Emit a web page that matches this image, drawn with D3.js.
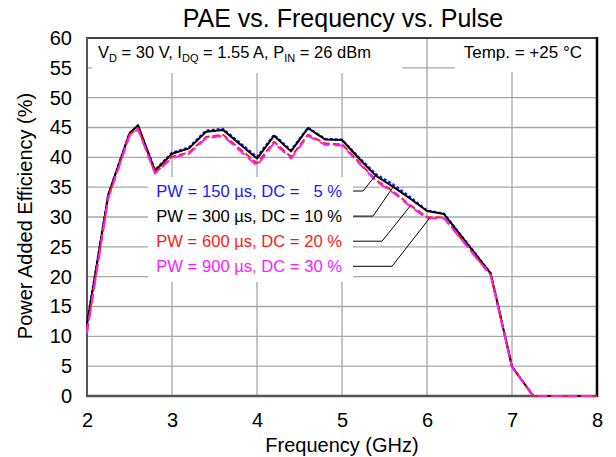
<!DOCTYPE html>
<html><head><meta charset="utf-8">
<script src="https://cdn.jsdelivr.net/npm/d3@7"></script>
<style>body{margin:0;background:#fff}svg{display:block;font-family:"Liberation Sans",Arial,sans-serif}</style>
</head><body><svg id="c" width="616" height="457"></svg>
<script>
const freqs = [2.0, 2.25, 2.5, 2.6, 2.8, 3.0, 3.2, 3.4, 3.6, 4.0, 4.2, 4.4, 4.6, 4.8, 5.0, 5.2, 5.4, 5.6, 5.8, 6.0, 6.2, 6.75, 7.0, 7.25, 7.5, 7.75, 8.0];
const pae150 = [12.3, 33.8, 44.1, 45.3, 37.9, 40.8, 41.7, 44.5, 44.8, 40.1, 43.8, 41.2, 45.0, 43.1, 43.0, 40.0, 37.2, 35.5, 33.4, 31.1, 30.6, 20.6, 5.0, 0, 0, 0, 0];
const pae300 = [12.0, 33.7, 44.0, 45.4, 37.7, 40.6, 41.5, 44.3, 44.6, 39.8, 43.6, 41.0, 44.9, 43.0, 42.9, 39.8, 36.9, 35.1, 33.1, 31.0, 30.5, 20.5, 4.9, 0, 0, 0, 0];
const pae600 = [11.0, 33.3, 43.8, 44.9, 37.4, 40.1, 40.8, 43.4, 43.8, 39.0, 42.6, 40.1, 43.8, 42.3, 42.2, 39.2, 36.2, 34.3, 32.0, 30.0, 29.9, 20.3, 4.9, 0, 0, 0, 0];
const pae900 = [10.5, 33.1, 43.6, 44.7, 37.3, 39.9, 40.6, 43.2, 43.6, 38.6, 42.4, 39.8, 43.6, 42.1, 42.0, 39.0, 36.0, 34.1, 31.8, 29.8, 29.8, 20.2, 4.8, 0, 0, 0, 0];
const seriesNames = ["PW = 150 µs, DC =   5 %", "PW = 300 µs, DC = 10 %", "PW = 600 µs, DC = 20 %", "PW = 900 µs, DC = 30 %"];
const seriesColors = ["#1a1aff", "#000000", "#ff1a1a", "#ff1aff"];
const leaderFreq = [5.39, 5.6, 5.8, 6.03];
const leaderPae = [36.9, 35.0, 31.8, 29.8];
const xTicks = [2, 3, 4, 5, 6, 7, 8];
const yTicks = [0, 5, 10, 15, 20, 25, 30, 35, 40, 45, 50, 55, 60];

const svg = d3.select("#c");
const x = d3.scaleLinear().domain([2, 8]).range([87, 597]);
const y = d3.scaleLinear().domain([0, 60]).range([396, 38]);

// gridlines
const grid = svg.append("g");
grid.selectAll(".hg").data(yTicks.filter(d => d > 0 && d < 60)).join("line")
  .attr("x1", x(2)).attr("x2", x(8)).attr("y1", d => y(d)).attr("y2", d => y(d))
  .attr("stroke", "#a8a8a8").attr("stroke-width", 1.3);
grid.selectAll(".vg").data(xTicks.filter(d => d > 2 && d < 8)).join("line")
  .attr("x1", d => x(d)).attr("x2", d => x(d)).attr("y1", y(60)).attr("y2", y(0))
  .attr("stroke", "#a8a8a8").attr("stroke-width", 1.3);

// header boxes (white, hide gridlines)
svg.append("rect").attr("x", 92).attr("y", 39).attr("width", 310).attr("height", 34).attr("fill", "#fff");
svg.append("rect").attr("x", 455).attr("y", 39).attr("width", 141).attr("height", 33).attr("fill", "#fff");

// frame
svg.append("line").attr("x1", 86).attr("x2", 598).attr("y1", 38).attr("y2", 38).attr("stroke", "#000").attr("stroke-width", 1.5);
svg.append("line").attr("x1", 597).attr("x2", 597).attr("y1", 37).attr("y2", 397).attr("stroke", "#000").attr("stroke-width", 2.5);
svg.append("line").attr("x1", 87).attr("x2", 87).attr("y1", 37).attr("y2", 397).attr("stroke", "#555").attr("stroke-width", 2);
svg.append("line").attr("x1", 86).attr("x2", 597).attr("y1", 396).attr("y2", 396).attr("stroke", "#555").attr("stroke-width", 2.5);

// series
const pts = arr => freqs.map((f, i) => [f, arr[i]]);
const line = d3.line().x(d => x(d[0])).y(d => y(d[1]));
const styles = [
  {data: pae150, dash: "3,2", w: 2},
  {data: pae300, dash: null, w: 2},
  {data: pae600, dash: "7,3", w: 2},
  {data: pae900, dash: "10,5", w: 2}
];
styles.forEach((s, i) => {
  svg.append("path").attr("d", line(pts(s.data))).attr("fill", "none")
    .attr("stroke", seriesColors[i]).attr("stroke-width", s.w)
    .attr("stroke-dasharray", s.dash).attr("stroke-linejoin", "round");
});

// legend box
svg.append("rect").attr("x", 148).attr("y", 177).attr("width", 205).attr("height", 105).attr("fill", "#fff");
const elbowX = [363, 373, 382, 392];
seriesNames.forEach((n, i) => {
  const by = 197 + i * 25.1;
  svg.append("text").attr("x", 342).attr("y", by).attr("text-anchor", "end")
    .attr("font-size", 16.6).attr("fill", seriesColors[i]).style("white-space", "pre").text(n);
  const ly = by - 6;
  svg.append("polyline")
    .attr("points", `353,${ly} ${elbowX[i]},${ly} ${x(leaderFreq[i])},${y(leaderPae[i])}`)
    .attr("fill", "none").attr("stroke", "#000").attr("stroke-width", 1);
});

// axes labels via d3 axes
const yAxis = svg.append("g").attr("transform", "translate(87,0)")
  .call(d3.axisLeft(y).tickValues(yTicks).tickSize(0).tickPadding(15));
yAxis.select(".domain").remove();
yAxis.selectAll("text").attr("font-size", 20).attr("fill", "#000").attr("font-family", "Liberation Sans, Arial, sans-serif");
const xAxis = svg.append("g").attr("transform", "translate(0,396)")
  .call(d3.axisBottom(x).tickValues(xTicks).tickFormat(d3.format("d")).tickSize(0).tickPadding(17));
xAxis.select(".domain").remove();
xAxis.selectAll("text").attr("font-size", 20).attr("fill", "#000").attr("font-family", "Liberation Sans, Arial, sans-serif");

// titles
svg.append("text").attr("x", 343).attr("y", 27).attr("text-anchor", "middle").attr("font-size", 25).text("PAE vs. Frequency vs. Pulse");
svg.append("text").attr("x", 342).attr("y", 452).attr("text-anchor", "middle").attr("font-size", 20).text("Frequency (GHz)");
svg.append("text").attr("transform", "translate(31.5,216) rotate(-90)").attr("text-anchor", "middle").attr("font-size", 20).text("Power Added Efficiency (%)");

// header annotations
const h = svg.append("text").attr("x", 98).attr("y", 58).attr("font-size", 16.5).style("white-space", "pre");
const parts = [["V", 0], ["D", 1], [" = 30 V, I", 0], ["DQ", 1], [" = 1.55 A, P", 0], ["IN", 1], [" = 26 dBm", 0]];
let prevSub = false;
parts.forEach(p => {
  const t = h.append("tspan").text(p[0]).attr("font-size", p[1] ? 11 : 16.5);
  if (p[1]) t.attr("dy", 4);
  else if (prevSub) t.attr("dy", -4);
  prevSub = !!p[1];
});
svg.append("text").attr("x", 582).attr("y", 58).attr("text-anchor", "end").attr("font-size", 17).text("Temp. = +25 °C");
</script></body></html>
